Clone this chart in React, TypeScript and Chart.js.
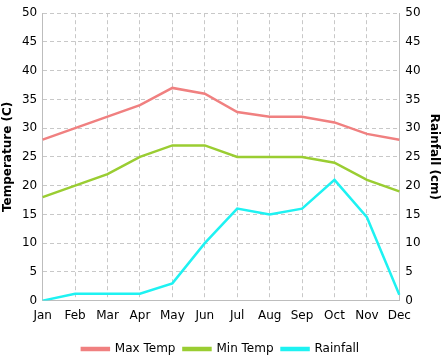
import React, { useEffect, useRef } from "react";
import { Chart, registerables } from "chart.js";

Chart.register(...registerables);

const months = ["Jan", "Feb", "Mar", "Apr", "May", "Jun", "Jul", "Aug", "Sep", "Oct", "Nov", "Dec"];
const maxTemp = [28, 30, 32, 34, 37, 36, 32.8, 32, 32, 31, 29, 28];
const minTemp = [18, 20, 22, 25, 27, 27, 25, 25, 25, 24, 21, 19];
const rainfall = [0, 1.2, 1.2, 1.2, 3, 10, 16, 15, 16, 21, 14.5, 1];

const FONT = "'DejaVu Sans', Verdana, sans-serif";

export default function App() {
  const ref = useRef<HTMLCanvasElement | null>(null);

  useEffect(() => {
    if (!ref.current) return;
    const gridColor = "#c8c8c8";
    const chart = new Chart(ref.current, {
      type: "line",
      data: {
        labels: months,
        datasets: [
          { label: "Max Temp", data: maxTemp, borderColor: "#f08080", backgroundColor: "#f08080", yAxisID: "y", borderWidth: 2.5, pointRadius: 0, tension: 0 },
          { label: "Min Temp", data: minTemp, borderColor: "#9acd32", backgroundColor: "#9acd32", yAxisID: "y", borderWidth: 2.5, pointRadius: 0, tension: 0 },
          { label: "Rainfall", data: rainfall, borderColor: "#1ef2f2", backgroundColor: "#1ef2f2", yAxisID: "y1", borderWidth: 2.5, pointRadius: 0, tension: 0 },
        ],
      },
      options: {
        responsive: false,
        animation: false,
        layout: { padding: { left: 0, right: 0, top: 7, bottom: -5 } },
        plugins: {
          legend: {
            position: "bottom",
            labels: {
              boxWidth: 27,
              boxHeight: 2,
              padding: 8,
              color: "#000",
              font: { family: FONT, size: 12 },
            },
          },
          tooltip: { enabled: false },
        },
        scales: {
          x: {
            offset: false,
            grid: { color: gridColor, drawTicks: false },
            border: { display: true, color: "#bdbdbd", dash: [4, 3] },
            ticks: { color: "#000", padding: 8, font: { family: FONT, size: 12 }, maxRotation: 0 },
            afterFit: (scale: any) => {
              scale.height += 4;
            },
          },
          y: {
            position: "left",
            min: 0,
            max: 50,
            ticks: { stepSize: 5, color: "#000", padding: 5.5, font: { family: FONT, size: 12 } },
            grid: { color: gridColor, drawTicks: false },
            border: { display: true, color: "#bdbdbd", dash: [4, 3] },
            title: { display: true, text: "Temperature (C)", color: "#000", font: { family: FONT, size: 12, weight: "bold" }, padding: 1 },
          },
          y1: {
            position: "right",
            min: 0,
            max: 50,
            ticks: { stepSize: 5, color: "#000", padding: 6, font: { family: FONT, size: 12 } },
            grid: { display: false, drawTicks: false },
            border: { display: true, color: "#bdbdbd" },
            title: { display: true, text: "Rainfall (cm)", color: "#000", font: { family: FONT, size: 12, weight: "bold" }, padding: 0 },
          },
        },
      },
    });
    return () => chart.destroy();
  }, []);

  return (
    <div style={{ position: "fixed", left: 0, top: 0, width: 441, height: 360, background: "#fff" }}>
      <canvas ref={ref} width={441} height={360} />
    </div>
  );
}
